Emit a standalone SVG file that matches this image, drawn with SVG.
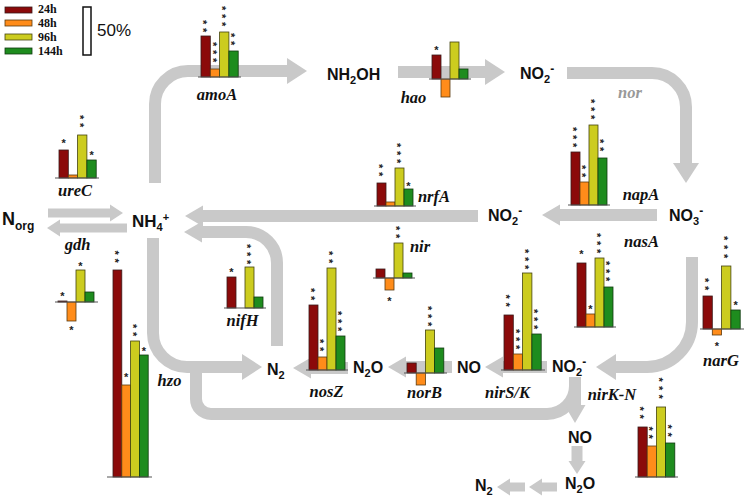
<svg xmlns="http://www.w3.org/2000/svg" width="746" height="501" viewBox="0 0 746 501">
<style>
.band{fill:none;stroke:#c9c9c9;stroke-width:12}
.thin{fill:none;stroke:#c9c9c9;stroke-width:9}
.hd{fill:#c9c9c9}
.chem{font-family:"Liberation Sans",Arial,sans-serif;font-weight:bold;font-size:16px;fill:#111}
.gene{font-family:"Liberation Serif","Times New Roman",serif;font-weight:bold;font-style:italic;font-size:16.5px;fill:#111;text-anchor:middle}
.leg{font-family:"Liberation Serif","Times New Roman",serif;font-weight:bold;font-size:12px;fill:#111}
.st{font-family:"Liberation Sans",Arial,sans-serif;font-weight:bold;font-size:11px;fill:#222;text-anchor:middle}
.sv{font-family:"Liberation Sans",Arial,sans-serif;font-weight:bold;font-size:11px;fill:#222;writing-mode:vertical-rl;letter-spacing:3.72px}
.r{fill:#8b0a0a;stroke:#3a1a1a;stroke-width:0.8}
.o{fill:#ff8c1a;stroke:#5a3a10;stroke-width:0.8}
.y{fill:#cccc1f;stroke:#444410;stroke-width:0.8}
.g{fill:#1e8c1e;stroke:#103a10;stroke-width:0.8}
.bl{stroke:#555;stroke-width:1.2}
</style>
<defs>
<marker id="ah" markerUnits="userSpaceOnUse" markerWidth="22" markerHeight="28" refX="0" refY="13" orient="auto" overflow="visible"><path d="M0,0 L20,13 L0,26 Z" class="hd"/></marker>
<marker id="am" markerUnits="userSpaceOnUse" markerWidth="20" markerHeight="22" refX="0" refY="10.5" orient="auto" overflow="visible"><path d="M0,0 L18,10.5 L0,21 Z" class="hd"/></marker>
<marker id="as" markerUnits="userSpaceOnUse" markerWidth="14" markerHeight="18" refX="0" refY="8.5" orient="auto" overflow="visible"><path d="M0,0 L13,8.5 L0,17 Z" class="hd"/></marker>
</defs>
<g id="connectors">
<path class="band" d="M155,183 V104 A33,33 0 0 1 188,71 H287" marker-end="url(#ah)"/>
<path class="band" d="M398,72 H485" marker-end="url(#ah)"/>
<path class="band" d="M567,73 H652 A34,34 0 0 1 686,107 V163" marker-end="url(#ah)"/>
<path class="band" d="M657,215 H560" marker-end="url(#am)"/>
<path class="band" d="M478,216 H203" marker-end="url(#am)"/>
<path class="band" d="M277,346 V263 A31,31 0 0 0 246,232 H202" marker-end="url(#am)"/>
<path class="band" d="M153,238 V333 A34,34 0 0 0 187,367 H242" marker-end="url(#ah)"/>
<path class="band" d="M575,386 A28,28 0 0 1 547,414 H211 A15,15 0 0 1 196,399 V368"/>
<path class="band" d="M575,377 V405" marker-end="url(#am)"/>
<path class="band" d="M692,257 V322 A45,45 0 0 1 647,367 H616" marker-end="url(#ah)"/>
<path class="band" d="M547,367 H503" marker-end="url(#am)"/>
<path class="band" d="M452,367 H406" marker-end="url(#am)"/>
<path class="band" d="M348,368 H311" marker-end="url(#am)"/>
<path class="thin" d="M48,213 H110" marker-end="url(#as)"/>
<path class="thin" d="M127,228 H60" marker-end="url(#as)"/>
<path class="band" style="stroke-width:11" d="M577,446 V461" marker-end="url(#as)"/>
<path class="thin" d="M557,487 H542" marker-end="url(#as)"/>
<path class="thin" d="M525,487 H510" marker-end="url(#as)"/>
</g>
<g id="legend">
<rect class="r" x="5" y="7" width="27" height="6"/>
<rect class="o" x="5" y="20" width="27" height="6"/>
<rect class="y" x="5" y="34" width="27" height="6"/>
<rect class="g" x="5" y="48" width="27" height="6"/>
<text class="leg" x="38" y="13">24h</text>
<text class="leg" x="38" y="27">48h</text>
<text class="leg" x="38" y="41">96h</text>
<text class="leg" x="38" y="55">144h</text>
<rect x="83" y="7" width="8" height="48" fill="#fff" stroke="#111" stroke-width="1.5"/>
<text x="97" y="36" style="font-family:'Liberation Sans',Arial,sans-serif;font-size:17px;fill:#111">50%</text>
</g>
<g id="amoA">
<rect class="r" x="201" y="36" width="9.3" height="41"/><rect class="o" x="210.3" y="69" width="9.3" height="8"/><rect class="y" x="219.6" y="32" width="9.3" height="45"/><rect class="g" x="228.9" y="51" width="9.3" height="26"/>
<line class="bl" x1="198" y1="77" x2="241" y2="77"/>
<text class="sv" x="203.2" y="19.9">**</text>
<text class="sv" x="212.5" y="41.9">***</text>
<text class="sv" x="221.8" y="5.9">***</text>
<text class="sv" x="231.1" y="32.9">**</text>
<text class="gene" x="217" y="100">amoA</text>
</g>
<g id="hao">
<rect class="r" x="432" y="55" width="9" height="24"/><rect class="o" x="441" y="79" width="9" height="18"/><rect class="y" x="450" y="42" width="9" height="37"/><rect class="g" x="459" y="69" width="9" height="10"/>
<line class="bl" x1="429" y1="79" x2="471" y2="79"/>
<text class="st" x="436.5" y="53.5">*</text>
<text class="gene" x="413.5" y="103">hao</text>
</g>
<g id="nor"><text class="gene" x="630" y="98" style="fill:#999">nor</text></g>
<g id="napA">
<rect class="r" x="571" y="152" width="9" height="53"/><rect class="o" x="580" y="182" width="9" height="23"/><rect class="y" x="589" y="125" width="9" height="80"/><rect class="g" x="598" y="158" width="9" height="47"/>
<line class="bl" x1="568" y1="205" x2="610" y2="205"/>
<text class="sv" x="573" y="126.9">***</text>
<text class="sv" x="582" y="164.9">**</text>
<text class="sv" x="591" y="98.9">***</text>
<text class="sv" x="600" y="138.9">**</text>
<text class="gene" x="641" y="200">napA</text>
</g>
<g id="ureC">
<rect class="r" x="59" y="150" width="9.3" height="28"/><rect class="o" x="68.3" y="175" width="9.3" height="3"/><rect class="y" x="77.6" y="135" width="9.3" height="43"/><rect class="g" x="86.9" y="160" width="9.3" height="18"/>
<line class="bl" x1="55" y1="178" x2="99" y2="178"/>
<text class="st" x="63.7" y="146.5">*</text>
<text class="sv" x="79.8" y="114.9">**</text>
<text class="st" x="91.6" y="158.5">*</text>
<text class="gene" x="75" y="196">ureC</text>
</g>
<g id="gdh">
<rect class="r" x="58" y="301" width="9" height="1"/><rect class="o" x="67" y="302" width="9" height="19"/><rect class="y" x="76" y="270" width="9" height="32"/><rect class="g" x="85" y="292" width="9" height="10"/>
<line class="bl" x1="55" y1="302" x2="98" y2="302"/>
<text class="st" x="62.5" y="299.5">*</text>
<text class="st" x="71.5" y="333.5">*</text>
<text class="st" x="80.5" y="269.5">*</text>
<text class="gene" x="77.5" y="250">gdh</text>
</g>
<g id="hzo">
<rect class="r" x="113" y="270" width="8.8" height="207"/><rect class="o" x="121.8" y="385" width="8.8" height="92"/><rect class="y" x="130.6" y="341" width="8.8" height="136"/><rect class="g" x="139.4" y="355" width="8.8" height="122"/>
<line class="bl" x1="107" y1="477" x2="152" y2="477"/>
<text class="sv" x="114.9" y="250.4">**</text>
<text class="st" x="126.2" y="380.5">*</text>
<text class="sv" x="132.5" y="323.9">**</text>
<text class="st" x="143.8" y="354.5">*</text>
<text class="gene" x="169.5" y="386">hzo</text>
</g>
<g id="nrfA">
<rect class="r" x="377" y="183" width="9" height="23"/><rect class="o" x="386" y="202" width="9" height="4"/><rect class="y" x="395" y="168" width="9" height="38"/><rect class="g" x="404" y="189" width="9" height="17"/>
<line class="bl" x1="374" y1="206" x2="416" y2="206"/>
<text class="sv" x="379" y="163.9">**</text>
<text class="sv" x="397" y="142.9">***</text>
<text class="st" x="408.5" y="189.5">*</text>
<text class="gene" x="434" y="202">nrfA</text>
</g>
<g id="nir">
<rect class="r" x="376" y="269" width="9" height="9"/><rect class="o" x="385" y="278" width="9" height="12"/><rect class="y" x="394" y="243" width="9" height="35"/><rect class="g" x="403" y="273" width="9" height="5"/>
<line class="bl" x1="373" y1="278" x2="415" y2="278"/>
<text class="st" x="389.5" y="304.5">*</text>
<text class="sv" x="396" y="225.9">**</text>
<text class="gene" x="420" y="252">nir</text>
</g>
<g id="nasA">
<rect class="r" x="577" y="263" width="9" height="64"/><rect class="o" x="586" y="314" width="9" height="13"/><rect class="y" x="595" y="258" width="9" height="69"/><rect class="g" x="604" y="287" width="9" height="40"/>
<line class="bl" x1="574" y1="327" x2="616" y2="327"/>
<text class="st" x="581.5" y="257.5">*</text>
<text class="st" x="590.5" y="312.5">*</text>
<text class="sv" x="597" y="232.9">***</text>
<text class="sv" x="606" y="260.9">***</text>
<text class="gene" x="641.5" y="247">nasA</text>
</g>
<g id="narG">
<rect class="r" x="703" y="296" width="9.3" height="33"/><rect class="o" x="712.3" y="329" width="9.3" height="6"/><rect class="y" x="721.6" y="266" width="9.3" height="63"/><rect class="g" x="730.9" y="310" width="9.3" height="19"/>
<line class="bl" x1="700" y1="329" x2="744" y2="329"/>
<text class="sv" x="705.2" y="277.9">**</text>
<text class="st" x="717" y="349.5">*</text>
<text class="sv" x="723.8" y="235.9" style="letter-spacing:4.72px">***</text>
<text class="st" x="735.6" y="308.5">*</text>
<text class="gene" x="721" y="366">narG</text>
</g>
<g id="nifH">
<rect class="r" x="227" y="277" width="9" height="31"/><rect class="y" x="245" y="267" width="9" height="41"/><rect class="g" x="254" y="297" width="9" height="11"/>
<line class="bl" x1="224" y1="308" x2="266" y2="308"/>
<text class="st" x="231.5" y="275.5">*</text>
<text class="sv" x="247" y="243.9">***</text>
<text class="gene" x="242.5" y="326">nifH</text>
</g>
<g id="nosZ">
<rect class="r" x="309" y="305" width="9" height="65"/><rect class="o" x="318" y="357" width="9" height="13"/><rect class="y" x="327" y="268" width="9" height="102"/><rect class="g" x="336" y="336" width="9" height="34"/>
<line class="bl" x1="306" y1="370" x2="348" y2="370"/>
<text class="sv" x="311" y="287.9">**</text>
<text class="sv" x="320" y="338.9">**</text>
<text class="sv" x="329" y="250.9">**</text>
<text class="sv" x="338" y="310.9">***</text>
<text class="gene" x="326.5" y="397">nosZ</text>
</g>
<g id="norB">
<rect class="r" x="407" y="363" width="9.2" height="10"/><rect class="o" x="416.2" y="373" width="9.2" height="12"/><rect class="y" x="425.4" y="330" width="9.2" height="43"/><rect class="g" x="434.6" y="348" width="9.2" height="25"/>
<line class="bl" x1="404" y1="373" x2="447" y2="373"/>
<text class="sv" x="427.5" y="305.9">***</text>
<text class="gene" x="424.5" y="398">norB</text>
</g>
<g id="nirSK">
<rect class="r" x="504" y="315" width="9.3" height="55"/><rect class="o" x="513.3" y="354" width="9.3" height="16"/><rect class="y" x="522.6" y="273" width="9.3" height="97"/><rect class="g" x="531.9" y="334" width="9.3" height="36"/>
<line class="bl" x1="501" y1="370" x2="545" y2="370"/>
<text class="sv" x="506.2" y="294.4">**</text>
<text class="sv" x="515.5" y="328.9">***</text>
<text class="sv" x="524.8" y="248.9">***</text>
<text class="sv" x="534.1" y="308.9">***</text>
<text class="gene" x="507.5" y="398">nirS/K</text>
</g>
<g id="nirKN">
<rect class="r" x="638" y="427" width="9.2" height="50"/><rect class="o" x="647.2" y="446" width="9.2" height="31"/><rect class="y" x="656.4" y="407" width="9.2" height="70"/><rect class="g" x="665.6" y="443" width="9.2" height="34"/>
<line class="bl" x1="635" y1="477" x2="678" y2="477"/>
<text class="sv" x="640.1" y="406.4">**</text>
<text class="sv" x="649.3" y="426.4">**</text>
<text class="sv" x="658.5" y="377.4" style="letter-spacing:4.22px">***</text>
<text class="sv" x="667.7" y="424.4">**</text>
<text class="gene" x="612" y="400">nirK-N</text>
</g>
<g id="Norg"><text class="chem" x="2" y="225" style="font-size:18px">N<tspan dy="5" font-size="12">org</tspan></text></g>
<g id="NH4"><text class="chem" x="132" y="227" style="font-size:17px">NH<tspan dy="4" font-size="11">4</tspan><tspan dy="-10" font-size="11">+</tspan></text></g>
<g id="NH2OH"><text class="chem" x="327" y="80">NH<tspan dy="4" font-size="11">2</tspan><tspan dy="-4">OH</tspan></text></g>
<g id="NO2top"><text class="chem" x="520" y="79">NO<tspan dy="4" font-size="11">2</tspan><tspan dy="-10" font-size="12">-</tspan></text></g>
<g id="NO3"><text class="chem" x="669" y="221">NO<tspan dy="4" font-size="11">3</tspan><tspan dy="-10" font-size="12">-</tspan></text></g>
<g id="NO2mid"><text class="chem" x="488" y="221">NO<tspan dy="4" font-size="11">2</tspan><tspan dy="-10" font-size="12">-</tspan></text></g>
<g id="N2mid"><text class="chem" x="267" y="375">N<tspan dy="4" font-size="11">2</tspan></text></g>
<g id="N2Omid"><text class="chem" x="353" y="373">N<tspan dy="4" font-size="11">2</tspan><tspan dy="-4">O</tspan></text></g>
<g id="NOmid"><text class="chem" x="457" y="373">NO</text></g>
<g id="NO2low"><text class="chem" x="552" y="372">NO<tspan dy="4" font-size="11">2</tspan><tspan dy="-10" font-size="12">-</tspan></text></g>
<g id="NOlow"><text class="chem" x="568" y="443">NO</text></g>
<g id="N2Olow"><text class="chem" x="565" y="489">N<tspan dy="4" font-size="11">2</tspan><tspan dy="-4">O</tspan></text></g>
<g id="N2low"><text class="chem" x="475" y="491">N<tspan dy="4" font-size="11">2</tspan></text></g>
</svg>
